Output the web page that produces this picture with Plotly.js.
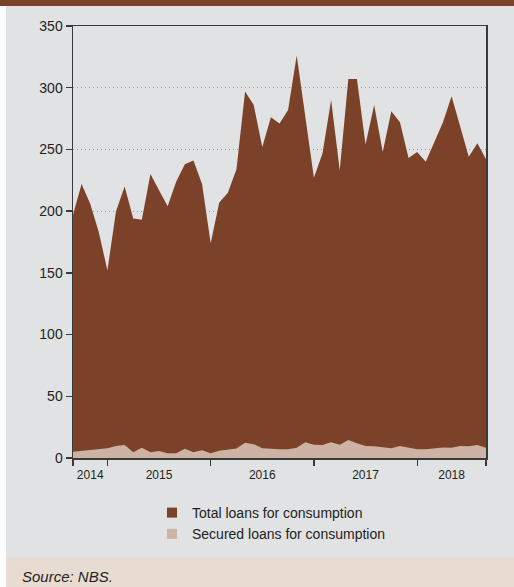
<!DOCTYPE html>
<html>
<head>
<meta charset="utf-8">
<script src="https://cdn.plot.ly/plotly-3.0.1.min.js"></script>
<style>html,body{margin:0;padding:0;background:#fff;}#chart{width:514px;height:587px;}</style>
</head>
<body>
<div id="chart"></div>
<script>
// Monthly observations, Sep 2014 .. Sep 2018 (index 0..48)
const monthIndex = [];
for (let i = 0; i <= 48; i++) monthIndex.push(i);

const totalLoans = [197, 222, 206, 183, 152, 200, 220, 194, 193, 230,
  217, 204, 224, 238, 241, 222, 174, 207, 215, 234,
  297, 286, 252, 276, 271, 282, 326, 278, 227, 247,
  290, 233, 307, 307, 254, 286, 248, 281, 272, 243,
  248, 240, 256, 272, 293, 268, 244, 255, 242];

const securedLoans = [5.1, 5.7, 6.5, 6.8, 7.8, 9.7, 10.5, 4.6, 8.4, 4.6,
  5.7, 3.8, 3.8, 7.5, 4.6, 6.2, 3.8, 5.8, 6.5, 7.6,
  12.4, 11.2, 7.8, 7.3, 7.0, 7.0, 8.4, 12.7, 10.8, 10.5,
  12.7, 10.8, 14.6, 11.9, 9.7, 9.5, 8.6, 7.8, 9.7, 8.4,
  7.0, 7.0, 7.8, 8.6, 8.4, 9.7, 9.5, 10.5, 8.4];

const seriesNames = ["Total loans for consumption", "Secured loans for consumption"];
const yearTickPos = [0, 4, 16, 28, 40, 48];
const yearLabelPos = [2, 10, 22, 34, 44];
const yearLabels = ["2014", "2015", "2016", "2017", "2018"];
const yTicks = [0, 50, 100, 150, 200, 250, 300, 350];

const brown = "#7b4129";
const light = "#cdb3a4";
const textCol = "#231f20";
const font = "Liberation Sans, Arial, sans-serif";

const traces = [
  {x: monthIndex, y: totalLoans, type: "scatter", mode: "lines", fill: "tozeroy",
   fillcolor: brown, line: {width: 0, color: brown}, showlegend: false, hoverinfo: "skip"},
  {x: monthIndex, y: securedLoans, type: "scatter", mode: "lines", fill: "tozeroy",
   fillcolor: light, line: {width: 0, color: light}, showlegend: false, hoverinfo: "skip"},
  {x: [null], y: [null], type: "scatter", mode: "markers", name: seriesNames[0],
   marker: {symbol: "square", size: 10, color: brown}},
  {x: [null], y: [null], type: "scatter", mode: "markers", name: seriesNames[1],
   marker: {symbol: "square", size: 10, color: light}}
];

// plot area px: x 73..486, y 26..458
const px2x = p => (p - 73) / 413;
const px2y = p => (458 - p) / 432;

const layout = {
  width: 514, height: 587,
  margin: {l: 73, r: 28, t: 26, b: 129, autoexpand: false},
  paper_bgcolor: "#e1e2e4",
  plot_bgcolor: "#e1e2e4",
  font: {family: font, color: textCol, size: 14},
  showlegend: true,
  legend: {x: px2x(152), y: px2y(497),
           xanchor: "left", yanchor: "top", bgcolor: "rgba(0,0,0,0)",
           font: {size: 14, family: font, color: textCol}, traceorder: "normal"},
  xaxis: {
    range: [0, 48], showgrid: false, zeroline: false, automargin: false,
    showline: true, linecolor: "#3a3a3a", linewidth: 1.5, mirror: true,
    tickmode: "array", tickvals: yearLabelPos, ticktext: yearLabels, ticks: "",
    tickangle: 0,
    tickfont: {size: 12, family: font, color: textCol}, ticklabelstandoff: 5,
    minor: {tickmode: "array", tickvals: yearTickPos, ticks: "outside", ticklen: 6,
            tickwidth: 1.3, tickcolor: "#3a3a3a", showgrid: false}
  },
  yaxis: {
    range: [0, 350], tickmode: "array", tickvals: yTicks, zeroline: false, automargin: false,
    showline: true, linecolor: "#3a3a3a", linewidth: 1.5, mirror: true,
    ticks: "outside", ticklen: 6, tickwidth: 1.3, tickcolor: "#3a3a3a",
    showgrid: true, gridcolor: "#9a9a9a", gridwidth: 1, griddash: "1px,3px",
    tickfont: {size: 14, family: font, color: textCol}
  },
  shapes: [
    {type: "rect", xref: "paper", yref: "paper", layer: "below",
     x0: px2x(-2), x1: px2x(6), y0: px2y(590), y1: px2y(-2), fillcolor: "#ffffff", line: {width: 0}},
    {type: "rect", xref: "paper", yref: "paper", layer: "below",
     x0: px2x(-2), x1: px2x(516), y0: px2y(6), y1: px2y(-2), fillcolor: brown, line: {width: 0}},
    {type: "rect", xref: "paper", yref: "paper", layer: "below",
     x0: px2x(6), x1: px2x(516), y0: px2y(590), y1: px2y(558), fillcolor: "#e8dcd2", line: {width: 0}}
  ],
  annotations: [
    {text: "<i>Source: NBS.</i>", xref: "paper", yref: "paper", x: px2x(20), y: px2y(576),
     xanchor: "left", yanchor: "middle", showarrow: false,
     font: {size: 15, family: font, color: textCol}}
  ]
};

Plotly.newPlot("chart", traces, layout, {displayModeBar: false, staticPlot: true});
</script>
</body>
</html>
